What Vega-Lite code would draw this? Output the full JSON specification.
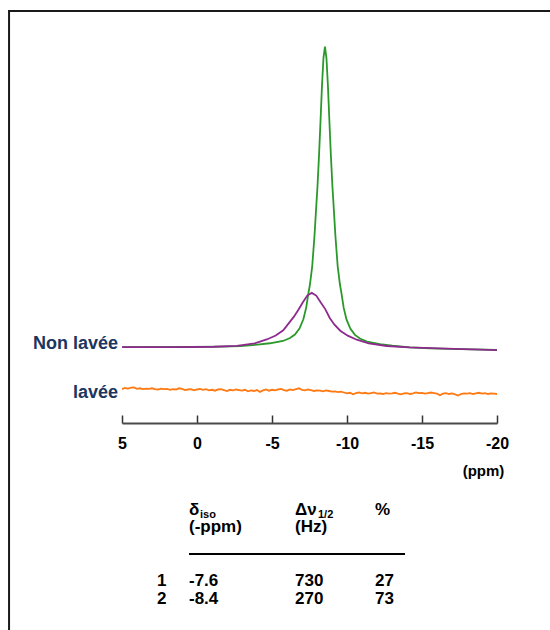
{
  "$schema": "https://vega.github.io/schema/vega-lite/v6.json",
  "autosize": {"type": "none"},
  "padding": {"left": 122, "top": 11, "right": 53, "bottom": 0},
  "width": 375,
  "height": 619,
  "background": "white",
  "config": {"view": {"stroke": null}},
  "datasets": {
    "composante2": [
      {"ppm": 5, "i": 0.15}, {"ppm": 0.47, "i": 0.17}, {"ppm": -1.53, "i": 0.29}, {"ppm": -2.87, "i": 0.49},
      {"ppm": -4.03, "i": 0.94}, {"ppm": -4.86, "i": 1.41}, {"ppm": -5.73, "i": 2.17}, {"ppm": -6.2, "i": 3.15},
      {"ppm": -6.53, "i": 4.34}, {"ppm": -6.83, "i": 6.33}, {"ppm": -7.09, "i": 9.4}, {"ppm": -7.28, "i": 13.3},
      {"ppm": -7.43, "i": 18.2}, {"ppm": -7.53, "i": 21.0}, {"ppm": -7.68, "i": 27.0}, {"ppm": -7.83, "i": 37.0},
      {"ppm": -7.98, "i": 49.5}, {"ppm": -8.03, "i": 53.5}, {"ppm": -8.13, "i": 63.5}, {"ppm": -8.23, "i": 75.0},
      {"ppm": -8.33, "i": 87.0}, {"ppm": -8.43, "i": 96.5}, {"ppm": -8.53, "i": 100.3}, {"ppm": -8.63, "i": 96.5},
      {"ppm": -8.73, "i": 87.0}, {"ppm": -8.83, "i": 75.0}, {"ppm": -8.93, "i": 63.5}, {"ppm": -9.03, "i": 53.5},
      {"ppm": -9.08, "i": 49.5}, {"ppm": -9.23, "i": 37.0}, {"ppm": -9.38, "i": 27.0}, {"ppm": -9.53, "i": 21.0},
      {"ppm": -9.63, "i": 18.1}, {"ppm": -9.78, "i": 13.2}, {"ppm": -9.97, "i": 9.3}, {"ppm": -10.23, "i": 6.2},
      {"ppm": -10.53, "i": 4.2}, {"ppm": -10.86, "i": 3.0}, {"ppm": -11.33, "i": 1.95}, {"ppm": -12.2, "i": 1.1},
      {"ppm": -13.03, "i": 0.58}, {"ppm": -14.19, "i": 0.03}, {"ppm": -15.53, "i": -0.27}, {"ppm": -17.53, "i": -0.55},
      {"ppm": -20, "i": -0.78}
    ],
    "composante1": [
      {"ppm": 5, "i": 0.12}, {"ppm": 1.35, "i": 0.1}, {"ppm": -1.15, "i": 0.25}, {"ppm": -2.65, "i": 0.54},
      {"ppm": -3.85, "i": 1.35}, {"ppm": -4.65, "i": 2.68}, {"ppm": -5.25, "i": 4.0}, {"ppm": -5.75, "i": 5.72},
      {"ppm": -6.15, "i": 8.3}, {"ppm": -6.45, "i": 10.2}, {"ppm": -6.75, "i": 12.5}, {"ppm": -7.05, "i": 15.0},
      {"ppm": -7.35, "i": 17.3}, {"ppm": -7.65, "i": 18.2}, {"ppm": -7.95, "i": 17.3}, {"ppm": -8.25, "i": 15.0},
      {"ppm": -8.55, "i": 12.8}, {"ppm": -8.85, "i": 9.85}, {"ppm": -9.15, "i": 7.7}, {"ppm": -9.55, "i": 5.6},
      {"ppm": -10.05, "i": 3.95}, {"ppm": -10.65, "i": 2.6}, {"ppm": -11.45, "i": 1.35}, {"ppm": -12.65, "i": 0.5},
      {"ppm": -14.15, "i": 0.05}, {"ppm": -16.65, "i": -0.4}, {"ppm": -20, "i": -0.9}
    ],
    "lavee": [
      {"ppm": 5.0, "i": -13.9}, {"ppm": 4.8, "i": -13.5}, {"ppm": 4.6, "i": -13.7}, {"ppm": 4.4, "i": -13.4},
      {"ppm": 4.2, "i": -13.3}, {"ppm": 4.0, "i": -13.8}, {"ppm": 3.8, "i": -13.6}, {"ppm": 3.6, "i": -13.9},
      {"ppm": 3.4, "i": -13.7}, {"ppm": 3.2, "i": -13.8}, {"ppm": 3.0, "i": -13.6}, {"ppm": 2.8, "i": -13.9},
      {"ppm": 2.6, "i": -14.0}, {"ppm": 2.4, "i": -13.7}, {"ppm": 2.2, "i": -13.9}, {"ppm": 2.0, "i": -13.8},
      {"ppm": 1.8, "i": -14.1}, {"ppm": 1.6, "i": -13.9}, {"ppm": 1.4, "i": -14.0}, {"ppm": 1.2, "i": -13.6},
      {"ppm": 1.0, "i": -13.8}, {"ppm": 0.8, "i": -14.2}, {"ppm": 0.6, "i": -14.0}, {"ppm": 0.4, "i": -13.9},
      {"ppm": 0.2, "i": -14.3}, {"ppm": 0.0, "i": -14.0}, {"ppm": -0.2, "i": -13.8}, {"ppm": -0.4, "i": -14.1},
      {"ppm": -0.6, "i": -13.9}, {"ppm": -0.8, "i": -14.3}, {"ppm": -1.0, "i": -14.1}, {"ppm": -1.2, "i": -14.4},
      {"ppm": -1.4, "i": -14.0}, {"ppm": -1.6, "i": -13.9}, {"ppm": -1.8, "i": -14.2}, {"ppm": -2.0, "i": -14.5},
      {"ppm": -2.2, "i": -14.1}, {"ppm": -2.4, "i": -14.3}, {"ppm": -2.6, "i": -14.0}, {"ppm": -2.8, "i": -14.2},
      {"ppm": -3.0, "i": -14.4}, {"ppm": -3.2, "i": -14.1}, {"ppm": -3.4, "i": -14.6}, {"ppm": -3.6, "i": -14.3},
      {"ppm": -3.8, "i": -14.5}, {"ppm": -4.0, "i": -14.2}, {"ppm": -4.2, "i": -14.8}, {"ppm": -4.4, "i": -14.3},
      {"ppm": -4.6, "i": -14.0}, {"ppm": -4.8, "i": -14.4}, {"ppm": -5.0, "i": -14.1}, {"ppm": -5.2, "i": -14.3},
      {"ppm": -5.4, "i": -14.0}, {"ppm": -5.6, "i": -13.8}, {"ppm": -5.8, "i": -14.2}, {"ppm": -6.0, "i": -14.4},
      {"ppm": -6.2, "i": -14.0}, {"ppm": -6.4, "i": -14.2}, {"ppm": -6.6, "i": -13.9}, {"ppm": -6.8, "i": -13.6},
      {"ppm": -7.0, "i": -14.1}, {"ppm": -7.2, "i": -14.3}, {"ppm": -7.4, "i": -14.0}, {"ppm": -7.6, "i": -14.2},
      {"ppm": -7.8, "i": -14.5}, {"ppm": -8.0, "i": -14.3}, {"ppm": -8.2, "i": -14.4}, {"ppm": -8.4, "i": -14.6},
      {"ppm": -8.6, "i": -14.3}, {"ppm": -8.8, "i": -14.5}, {"ppm": -9.0, "i": -14.7}, {"ppm": -9.2, "i": -14.6},
      {"ppm": -9.4, "i": -14.9}, {"ppm": -9.6, "i": -14.7}, {"ppm": -9.8, "i": -15.0}, {"ppm": -10.0, "i": -15.3},
      {"ppm": -10.2, "i": -15.1}, {"ppm": -10.4, "i": -15.6}, {"ppm": -10.6, "i": -15.2}, {"ppm": -10.8, "i": -15.0},
      {"ppm": -11.0, "i": -15.3}, {"ppm": -11.2, "i": -15.1}, {"ppm": -11.4, "i": -15.4}, {"ppm": -11.6, "i": -15.2},
      {"ppm": -11.8, "i": -15.0}, {"ppm": -12.0, "i": -15.4}, {"ppm": -12.2, "i": -15.3}, {"ppm": -12.4, "i": -15.5},
      {"ppm": -12.6, "i": -15.2}, {"ppm": -12.8, "i": -15.4}, {"ppm": -13.0, "i": -15.3}, {"ppm": -13.2, "i": -15.1},
      {"ppm": -13.4, "i": -15.4}, {"ppm": -13.6, "i": -15.6}, {"ppm": -13.8, "i": -15.3}, {"ppm": -14.0, "i": -15.2},
      {"ppm": -14.2, "i": -15.5}, {"ppm": -14.4, "i": -15.3}, {"ppm": -14.6, "i": -15.0}, {"ppm": -14.8, "i": -15.2},
      {"ppm": -15.0, "i": -15.1}, {"ppm": -15.2, "i": -15.4}, {"ppm": -15.4, "i": -15.2}, {"ppm": -15.6, "i": -15.0},
      {"ppm": -15.8, "i": -15.2}, {"ppm": -16.0, "i": -15.4}, {"ppm": -16.2, "i": -15.9}, {"ppm": -16.4, "i": -15.4},
      {"ppm": -16.6, "i": -15.2}, {"ppm": -16.8, "i": -15.5}, {"ppm": -17.0, "i": -15.3}, {"ppm": -17.2, "i": -15.6},
      {"ppm": -17.4, "i": -16.0}, {"ppm": -17.6, "i": -15.5}, {"ppm": -17.8, "i": -15.3}, {"ppm": -18.0, "i": -15.4},
      {"ppm": -18.2, "i": -15.2}, {"ppm": -18.4, "i": -15.5}, {"ppm": -18.6, "i": -15.3}, {"ppm": -18.8, "i": -15.1},
      {"ppm": -19.0, "i": -15.4}, {"ppm": -19.2, "i": -15.2}, {"ppm": -19.4, "i": -15.5}, {"ppm": -19.6, "i": -15.3},
      {"ppm": -19.8, "i": -15.4}, {"ppm": -20.0, "i": -15.5}
    ],
    "etiquettes": [
      {"t": "Non lavée", "ppm": 5, "i": -0.6},
      {"t": "lavée", "ppm": 5, "i": -16.9}
    ],
    "tableau": [
      {"c": 1, "r": 1, "t": "(-ppm)"}, {"c": 2, "r": 1, "t": "(Hz)"},
      {"c": 1, "r": 0, "t": "δ"}, {"c": 2, "r": 0, "t": "Δν"}, {"c": 3, "r": 0, "t": "%"},
      {"c": 0, "r": 3, "t": "1"}, {"c": 1, "r": 3, "t": "-7.6"}, {"c": 2, "r": 3, "t": "730"}, {"c": 3, "r": 3, "t": "27"},
      {"c": 0, "r": 4, "t": "2"}, {"c": 1, "r": 4, "t": "-8.4"}, {"c": 2, "r": 4, "t": "270"}, {"c": 3, "r": 4, "t": "73"}
    ],
    "indices": [
      {"c": 1, "r": 0, "t": "iso", "k": "a"},
      {"c": 2, "r": 0, "t": "1/2", "k": "b"}
    ],
    "filet": [{"c": 1, "c2": 4, "r": 2}]
  },
  "layer": [
    {
      "data": {"values": [{}]},
      "mark": {"type": "rule", "color": "#1a1a1a", "strokeWidth": 2},
      "encoding": {
        "x": {"datum": 12.53, "type": "quantitative", "scale": {"domain": [5, -20], "nice": false, "zero": false}, "axis": null},
        "y": {"datum": 112.17, "type": "quantitative", "scale": {"domain": [-94.17, 112.17], "nice": false, "zero": false}, "axis": null},
        "y2": {"datum": -94.17}
      }
    },
    {
      "data": {"values": [{}]},
      "mark": {"type": "rule", "color": "#1a1a1a", "strokeWidth": 2},
      "encoding": {
        "x": {"datum": 12.6, "type": "quantitative", "scale": {"domain": [5, -20], "nice": false, "zero": false}, "axis": null},
        "x2": {"datum": -24.5},
        "y": {"datum": 112.17, "type": "quantitative", "scale": {"domain": [-94.17, 112.17], "nice": false, "zero": false}, "axis": null}
      }
    },
    {
      "data": {"name": "lavee"},
      "mark": {"type": "line", "color": "#ff7a12", "strokeWidth": 1.8},
      "encoding": {
        "x": {
          "field": "ppm", "type": "quantitative",
          "scale": {"domain": [5, -20], "nice": false, "zero": false},
          "axis": {
            "orient": "bottom", "offset": -207, "values": [5, 0, -5, -10, -15, -20],
            "labelExpr": "datum.value + ''", "labelFlush": false, "labelOverlap": false,
            "domainColor": "#4a4a4a", "domainWidth": 2, "tickColor": "#333333", "tickWidth": 1.5, "tickSize": -8,
            "labelPadding": 20, "labelFont": "Liberation Sans",
            "labelFontSize": 16, "labelFontWeight": "bold", "labelColor": "#000000", "grid": false,
            "title": "(ppm)", "titleX": 361, "titleY": 47, "titleAlign": "center", "titleBaseline": "middle", "titleAngle": 0,
            "titleFont": "Liberation Sans",
            "titleFontSize": 15, "titleFontWeight": "bold", "titleColor": "#000000"
          }
        },
        "y": {"field": "i", "type": "quantitative", "scale": {"domain": [-94.17, 112.17], "nice": false, "zero": false}, "axis": null}
      }
    },
    {
      "data": {"name": "composante2"},
      "mark": {"type": "line", "color": "#2a992a", "strokeWidth": 1.8},
      "encoding": {
        "x": {"field": "ppm", "type": "quantitative", "scale": {"domain": [5, -20], "nice": false, "zero": false}, "axis": null},
        "y": {"field": "i", "type": "quantitative", "scale": {"domain": [-94.17, 112.17], "nice": false, "zero": false}, "axis": null}
      }
    },
    {
      "data": {"name": "composante1"},
      "mark": {"type": "line", "color": "#8e2a8e", "strokeWidth": 1.8},
      "encoding": {
        "x": {"field": "ppm", "type": "quantitative", "scale": {"domain": [5, -20], "nice": false, "zero": false}, "axis": null},
        "y": {"field": "i", "type": "quantitative", "scale": {"domain": [-94.17, 112.17], "nice": false, "zero": false}, "axis": null}
      }
    },
    {
      "data": {"name": "etiquettes"},
      "mark": {"type": "text", "align": "right", "baseline": "alphabetic", "dx": -4, "color": "#1c3660",
               "font": "Liberation Sans", "fontSize": 18, "fontWeight": "bold"},
      "encoding": {
        "x": {"field": "ppm", "type": "quantitative", "scale": {"domain": [5, -20], "nice": false, "zero": false}, "axis": null},
        "y": {"field": "i", "type": "quantitative", "scale": {"domain": [-94.17, 112.17], "nice": false, "zero": false}, "axis": null},
        "text": {"field": "t"}
      }
    },
    {
      "data": {"name": "tableau"},
      "mark": {"type": "text", "align": "left", "baseline": "alphabetic", "color": "#000000",
               "font": "Liberation Sans", "fontSize": 17, "fontWeight": "bold"},
      "encoding": {
        "x": {"field": "c", "type": "quantitative", "scale": {"domain": [0, 1, 2, 3, 4], "range": [35, 67, 173, 253, 283]}, "axis": null},
        "y": {"field": "r", "type": "quantitative", "scale": {"domain": [0, 1, 2, 3, 4], "range": [504, 521, 543, 575, 593]}, "axis": null},
        "text": {"field": "t"}
      }
    },
    {
      "data": {"name": "indices"},
      "transform": [{"filter": "datum.k == 'a'"}],
      "mark": {"type": "text", "align": "left", "baseline": "alphabetic", "dx": 11, "dy": 3, "color": "#000000",
               "font": "Liberation Sans", "fontSize": 11, "fontWeight": "bold"},
      "encoding": {
        "x": {"field": "c", "type": "quantitative", "scale": {"domain": [0, 1, 2, 3, 4], "range": [35, 67, 173, 253, 283]}, "axis": null},
        "y": {"field": "r", "type": "quantitative", "scale": {"domain": [0, 1, 2, 3, 4], "range": [504, 521, 543, 575, 593]}, "axis": null},
        "text": {"field": "t"}
      }
    },
    {
      "data": {"name": "indices"},
      "transform": [{"filter": "datum.k == 'b'"}],
      "mark": {"type": "text", "align": "left", "baseline": "alphabetic", "dx": 23, "dy": 3, "color": "#000000",
               "font": "Liberation Sans", "fontSize": 11, "fontWeight": "bold"},
      "encoding": {
        "x": {"field": "c", "type": "quantitative", "scale": {"domain": [0, 1, 2, 3, 4], "range": [35, 67, 173, 253, 283]}, "axis": null},
        "y": {"field": "r", "type": "quantitative", "scale": {"domain": [0, 1, 2, 3, 4], "range": [504, 521, 543, 575, 593]}, "axis": null},
        "text": {"field": "t"}
      }
    },
    {
      "data": {"name": "filet"},
      "mark": {"type": "rule", "color": "#000000", "strokeWidth": 2},
      "encoding": {
        "x": {"field": "c", "type": "quantitative", "scale": {"domain": [0, 1, 2, 3, 4], "range": [35, 67, 173, 253, 283]}, "axis": null},
        "x2": {"field": "c2"},
        "y": {"field": "r", "type": "quantitative", "scale": {"domain": [0, 1, 2, 3, 4], "range": [504, 521, 543, 575, 593]}, "axis": null}
      }
    }
  ],
  "resolve": {"scale": {"x": "independent", "y": "independent"}}
}
